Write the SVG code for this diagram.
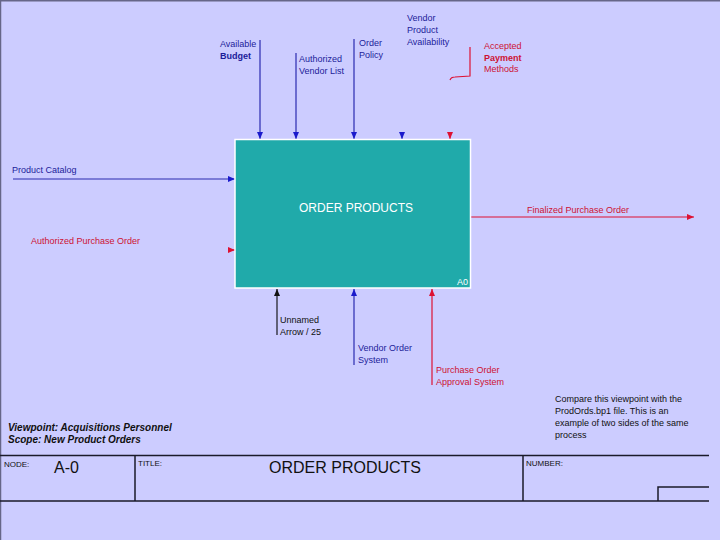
<svg xmlns="http://www.w3.org/2000/svg" width="720" height="540" viewBox="0 0 720 540">
<defs>
<style>
text{font-family:"Liberation Sans",Arial,sans-serif}
.b{fill:#1c1c9a;font-size:9px}
.r{fill:#cc1133;font-size:9px}
.k{fill:#111;font-size:9px}
.lb{stroke:#2a2ab0;stroke-width:1.2;fill:none}
.lr{stroke:#dd1133;stroke-width:1.2;fill:none}
.lk{stroke:#444455;stroke-width:1.6;fill:none}
.frame{stroke:#1a1a2a;stroke-width:1.5;fill:none}
</style>
<marker id="ab" markerWidth="8" markerHeight="8" refX="7" refY="4" orient="auto" markerUnits="userSpaceOnUse"><path d="M0,1 L7,4 L0,7 Z" fill="#1a1acc"/></marker>
<marker id="ar" markerWidth="8" markerHeight="8" refX="7" refY="4" orient="auto" markerUnits="userSpaceOnUse"><path d="M0,1 L7,4 L0,7 Z" fill="#dd1133"/></marker>
<marker id="ak" markerWidth="8" markerHeight="8" refX="7" refY="4" orient="auto" markerUnits="userSpaceOnUse"><path d="M0,1 L7,4 L0,7 Z" fill="#111"/></marker>
</defs>
<rect x="0" y="0" width="720" height="540" fill="#ccccff"/>
<path d="M0.5,540 V0.7 H720" stroke="#666688" stroke-width="1.5" fill="none"/>

<g id="connectors">
<path class="lb" d="M260,40 V139" marker-end="url(#ab)"/>
<path class="lb" d="M296,53 V139" marker-end="url(#ab)"/>
<path class="lb" d="M354,39 V139" marker-end="url(#ab)"/>
<path class="lb" d="M402,133 V139" marker-end="url(#ab)"/>
<path class="lr" d="M470,47 V76 L455,77 Q451,77 450,80"/>
<path class="lr" d="M450,133 V139" marker-end="url(#ar)"/>
<path class="lb" d="M13,179 H235" marker-end="url(#ab)"/>
<path class="lr" d="M228,250 H235" marker-end="url(#ar)"/>
<path class="lr" d="M471,217 H694" marker-end="url(#ar)"/>
<path class="lk" d="M277,335 V289" marker-end="url(#ak)"/>
<path class="lb" d="M354,365 V289" marker-end="url(#ab)"/>
<path class="lr" d="M432,385 V289" marker-end="url(#ar)"/>
</g>

<g id="labels">
<text class="b" x="220" y="47">Available</text>
<text class="b" x="220" y="59" font-size="8" font-weight="bold">Budget</text>
<text class="b" x="299" y="62">Authorized</text>
<text class="b" x="299" y="74" font-size="8">Vendor List</text>
<text class="b" x="359" y="46">Order</text>
<text class="b" x="359" y="58">Policy</text>
<text class="b" x="407" y="21">Vendor</text>
<text class="b" x="407" y="33">Product</text>
<text class="b" x="407" y="45" font-size="8.5">Availability</text>
<text class="r" x="484" y="49" font-size="8.5">Accepted</text>
<text class="r" x="484" y="61" font-weight="bold" font-size="8.5">Payment</text>
<text class="r" x="484" y="72" font-size="8.5">Methods</text>
<text class="b" x="12" y="173" font-size="8.5">Product Catalog</text>
<text class="r" x="31" y="244" font-size="8.5">Authorized Purchase Order</text>
<text class="r" x="527" y="213" font-size="8.5">Finalized Purchase Order</text>
<text class="k" x="280" y="323">Unnamed</text>
<text class="k" x="280" y="335" font-size="8.5">Arrow / 25</text>
<text class="b" x="358" y="351">Vendor Order</text>
<text class="b" x="358" y="363">System</text>
<text class="r" x="436" y="373" font-size="8.5">Purchase Order</text>
<text class="r" x="436" y="385" font-size="8.5">Approval System</text>
</g>

<g id="node-A0">
<rect x="235" y="139.5" width="235.5" height="148.5" fill="#20aaaa" stroke="#ffffff" stroke-width="1.5"/>
<text x="356" y="212" fill="#ffffff" font-size="12" text-anchor="middle">ORDER PRODUCTS</text>
<text x="457" y="285" fill="#ffffff" font-size="9">A0</text>
</g>

<g id="note">
<text class="k" x="555" y="402" font-size="8.5">Compare this viewpoint with the</text>
<text class="k" x="555" y="414" font-size="8.5">ProdOrds.bp1 file. This is an</text>
<text class="k" x="555" y="426" font-size="8.5">example of two sides of the same</text>
<text class="k" x="555" y="438" font-size="8.5">process</text>
</g>

<g id="viewpoint">
<text x="8" y="431" fill="#111" font-size="10" font-weight="bold" font-style="italic">Viewpoint: Acquisitions Personnel</text>
<text x="8" y="443" fill="#111" font-size="10" font-weight="bold" font-style="italic">Scope: New Product Orders</text>
</g>

<g id="title-block">
<path class="frame" d="M0,455.5 H709 M0,501 H709 M135,455.5 V501 M523,455.5 V501 M658,501 V487 H709"/>
<text x="4" y="467" fill="#111" font-size="8">NODE:</text>
<text x="54" y="473" fill="#111" font-size="16">A-0</text>
<text x="138" y="466" fill="#111" font-size="8">TITLE:</text>
<text x="345" y="473" fill="#111" font-size="16" text-anchor="middle">ORDER PRODUCTS</text>
<text x="526" y="466" fill="#111" font-size="8">NUMBER:</text>
</g>
</svg>
